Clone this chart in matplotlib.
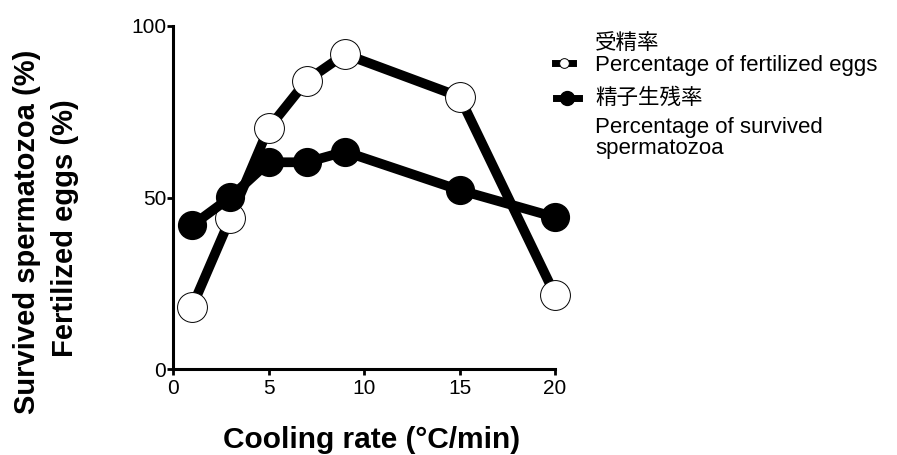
import matplotlib
matplotlib.use('Agg')
import matplotlib.pyplot as plt
from matplotlib.lines import Line2D

# cooling rate (C/min)
rate = [1, 3, 5, 7, 9, 15, 20]
# percentage of fertilized eggs (open circles)
fertilized = [18.2, 44.0, 70.2, 84.1, 91.8, 79.4, 21.7]
# percentage of survived spermatozoa (filled circles)
survived = [41.9, 50.1, 60.3, 60.3, 63.4, 52.2, 44.3]

xticks = [0, 5, 10, 15, 20]
yticks = [0, 50, 100]

plt.rcParams['font.family'] = ['Liberation Sans', 'Noto Sans CJK JP', 'DejaVu Sans']

fig = plt.figure(figsize=(8.97, 4.55), dpi=100)
ax = fig.add_axes([0.1929, 0.1884, 0.4259, 0.7545])

ax.plot(rate, fertilized, color='black', lw=7, marker='o', ms=21.5,
        mfc='white', mec='black', mew=0.7, clip_on=False, zorder=3)
ax.plot(rate, survived, color='black', lw=7, marker='o', ms=20,
        mfc='black', mec='black', clip_on=False, zorder=4)

ax.set_xlim(0, 20)
ax.set_ylim(0, 100)
ax.set_xticks(xticks)
ax.set_yticks(yticks)
for s in ['top', 'right']:
    ax.spines[s].set_visible(False)
for s in ['left', 'bottom']:
    ax.spines[s].set_linewidth(2.2)
ax.tick_params(direction='out', length=4, width=2, labelsize=15, pad=1)
ax.tick_params(axis='x', pad=3)

ax.set_xlabel('Cooling rate (°C/min)', fontsize=21.5, fontweight='bold')
ax.xaxis.set_label_coords(0.52, -0.165)
fig.text(27 / 897, 1 - 232 / 455, 'Survived spermatozoa (%)', rotation=90,
         ha='center', va='center', fontsize=21, fontweight='bold')
fig.text(65 / 897, 1 - 228 / 455, 'Fertilized eggs (%)', rotation=90,
         ha='center', va='center', fontsize=21, fontweight='bold')

# hand-made legend
def fx(px):
    return px / 897


def fy(py):
    return 1 - py / 455


fig.add_artist(Line2D([fx(555), fx(573)], [fy(63), fy(63)], color='black', lw=5,
                      transform=fig.transFigure))
fig.add_artist(Line2D([fx(564)], [fy(63)], marker='o', ms=7, mfc='white',
                      mec='black', mew=0.7, transform=fig.transFigure))
fig.add_artist(Line2D([fx(556), fx(579)], [fy(98), fy(98)], color='black', lw=5,
                      transform=fig.transFigure))
fig.add_artist(Line2D([fx(567)], [fy(98)], marker='o', ms=10, mfc='black',
                      mec='black', transform=fig.transFigure))

legend_lines = [
    ('受精率', 49, 15.5),
    ('Percentage of fertilized eggs', 71, 16),
    ('精子生残率', 104, 15.5),
    ('Percentage of survived', 133, 16),
    ('spermatozoa', 154, 16),
]
for txt, base, size in legend_lines:
    fig.text(fx(595), fy(base), txt, ha='left', va='baseline', fontsize=size)

fig.savefig('out.png', dpi=100)
